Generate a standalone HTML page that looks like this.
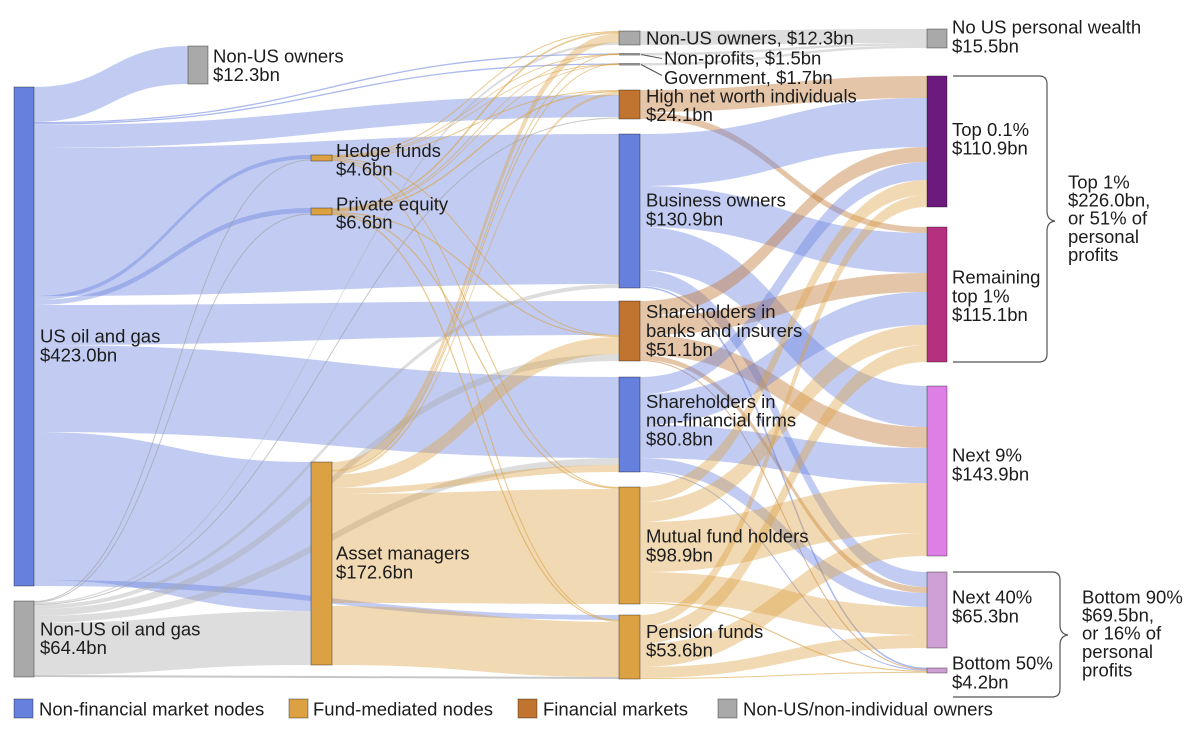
<!DOCTYPE html>
<html><head><meta charset="utf-8"><style>
html,body{margin:0;padding:0;background:#fff;}
svg{display:block;}
text{font-family:"Liberation Sans",Arial,sans-serif;font-size:18.5px;fill:#1c1c1c;}
.b{fill:#6680de;fill-opacity:.4}
.y{fill:#dba142;fill-opacity:.4}
.r{fill:#c0742f;fill-opacity:.42}
.g{fill:#a9a9a9;fill-opacity:.4}
.bs{fill:none;stroke:#6680de;stroke-opacity:.55}
.ys{fill:none;stroke:#dba142;stroke-opacity:.6}
.gs{fill:none;stroke:#999;stroke-opacity:.55}
.rs{fill:none;stroke:#c0742f;stroke-opacity:.55}
.n{stroke:#000;stroke-opacity:.35;stroke-width:1}
</style></head><body>
<svg width="1200" height="742" viewBox="0 0 1200 742" xmlns="http://www.w3.org/2000/svg">
<!-- US oil and gas links -->
<path class="b" d="M34 87C111 87 111 46 188 46L188 84C111 84 111 122 34 122Z"/>
<path class="bs" stroke-width="1.3" d="M34 122.7C326.5 122.7 326.5 54 619 54"/>
<path class="bs" stroke-width="1.3" d="M34 124C326.5 124 326.5 64 619 64"/>
<path class="b" d="M34 125C326.5 125 326.5 95 619 95L619 117C326.5 117 326.5 148 34 148Z"/>
<path class="b" d="M34 148C326.5 148 326.5 134 619 134L619 284C326.5 284 326.5 296 34 296Z"/>
<path class="b" d="M34 296C172.5 296 172.5 155 311 155L311 159C172.5 159 172.5 300 34 300Z"/>
<path class="b" d="M34 300C172.5 300 172.5 208 311 208L311 213C172.5 213 172.5 305 34 305Z"/>
<path class="b" d="M34 305C326.5 305 326.5 301 619 301L619 335C326.5 335 326.5 345 34 345Z"/>
<path class="b" d="M34 345C326.5 345 326.5 377 619 377L619 458C326.5 458 326.5 432 34 432Z"/>
<path class="b" d="M34 432C172.5 432 172.5 462 311 462L311 611C172.5 611 172.5 580 34 580Z"/>
<path class="b" d="M34 580C326.5 580 326.5 615 619 615L619 620C326.5 620 326.5 586 34 586Z"/>
<!-- Non-US oil and gas links -->
<path class="gs" stroke-width="1" d="M34 601.5C172.5 601.5 172.5 160 311 160"/>
<path class="gs" stroke-width="1" d="M34 602.3C172.5 602.3 172.5 214 311 214"/>
<path class="g" d="M34 602.6C326.5 602.6 326.5 42.5 619 42.5L619 45C326.5 45 326.5 604 34 604Z"/>
<path class="gs" stroke-width="1" d="M34 604.5C326.5 604.5 326.5 118 619 118"/>
<path class="g" d="M34 605C326.5 605 326.5 284 619 284L619 288C326.5 288 326.5 609 34 609Z"/>
<path class="g" d="M34 609C326.5 609 326.5 354 619 354L619 361C326.5 361 326.5 616 34 616Z"/>
<path class="g" d="M34 616C326.5 616 326.5 458 619 458L619 465C326.5 465 326.5 623 34 623Z"/>
<path class="g" d="M34 623C172.5 623 172.5 611 311 611L311 665C172.5 665 172.5 675 34 675Z"/>
<path class="gs" stroke-width="2" stroke-opacity=".3" d="M34 676C326.5 676 326.5 678 619 678"/>
<!-- Hedge funds -->
<path class="ys" stroke-width="1" d="M332 155.5C475.5 155.5 475.5 31.5 619 31.5"/>
<path class="ys" stroke-width=".8" d="M332 156.2C475.5 156.2 475.5 54.3 619 54.3"/>
<path class="ys" stroke-width=".8" d="M332 156.8C475.5 156.8 475.5 64.3 619 64.3"/>
<path class="ys" stroke-width="1" d="M332 157.5C475.5 157.5 475.5 90.5 619 90.5"/>
<path class="ys" stroke-width="1" d="M332 158.5C475.5 158.5 475.5 335.5 619 335.5"/>
<path class="ys" stroke-width="1" d="M332 159.5C475.5 159.5 475.5 487.5 619 487.5"/>
<path class="ys" stroke-width="1" d="M332 160.5C475.5 160.5 475.5 620.4 619 620.4"/>
<!-- Private equity -->
<path class="ys" stroke-width="1.5" d="M332 208.8C475.5 208.8 475.5 32.8 619 32.8"/>
<path class="ys" stroke-width=".8" d="M332 209.8C475.5 209.8 475.5 54.6 619 54.6"/>
<path class="ys" stroke-width=".8" d="M332 210.4C475.5 210.4 475.5 64.6 619 64.6"/>
<path class="ys" stroke-width="1.4" d="M332 211.3C475.5 211.3 475.5 91.6 619 91.6"/>
<path class="ys" stroke-width="1.2" d="M332 212.5C475.5 212.5 475.5 336.5 619 336.5"/>
<path class="ys" stroke-width="1.2" d="M332 213.6C475.5 213.6 475.5 488.3 619 488.3"/>
<path class="ys" stroke-width="1.2" d="M332 214.5C475.5 214.5 475.5 621.3 619 621.3"/>
<!-- Asset managers -->
<path class="y" d="M332 462C475.5 462 475.5 33.5 619 33.5L619 42.5C475.5 42.5 475.5 470 332 470Z"/>
<path class="ys" stroke-width=".9" d="M332 470.4C475.5 470.4 475.5 53.6 619 53.6"/>
<path class="ys" stroke-width=".9" d="M332 471.2C475.5 471.2 475.5 63.6 619 63.6"/>
<path class="y" d="M332 471.6C475.5 471.6 475.5 92.3 619 92.3L619 95.3C475.5 95.3 475.5 474.6 332 474.6Z"/>
<path class="y" d="M332 474.6C475.5 474.6 475.5 337 619 337L619 354C475.5 354 475.5 488 332 488Z"/>
<path class="y" d="M332 488C475.5 488 475.5 465 619 465L619 472C475.5 472 475.5 494 332 494Z"/>
<path class="y" d="M332 494C475.5 494 475.5 489 619 489L619 604C475.5 604 475.5 603 332 603Z"/>
<path class="y" d="M332 606C475.5 606 475.5 622 619 622L619 677C475.5 677 475.5 665 332 665Z"/>
<!-- Column 3 to column 4 -->
<path class="g" d="M640 31C783.5 31 783.5 29 927 29L927 43C783.5 43 783.5 45 640 45Z"/>
<path class="g" d="M640 53C783.5 53 783.5 43 927 43L927 45.5C783.5 45.5 783.5 55.5 640 55.5Z"/>
<path class="g" d="M640 63C783.5 63 783.5 45.5 927 45.5L927 48C783.5 48 783.5 65.5 640 65.5Z"/>
<path class="r" d="M640 90C783.5 90 783.5 76 927 76L927 98C783.5 98 783.5 112 640 112Z"/>
<path class="r" d="M640 112C783.5 112 783.5 227 927 227L927 233C783.5 233 783.5 119 640 119Z"/>
<path class="b" d="M640 134C783.5 134 783.5 98 927 98L927 147C783.5 147 783.5 186 640 186Z"/>
<path class="b" d="M640 186C783.5 186 783.5 233 927 233L927 273C783.5 273 783.5 227 640 227Z"/>
<path class="b" d="M640 227C783.5 227 783.5 386 927 386L927 427C783.5 427 783.5 270 640 270Z"/>
<path class="b" d="M640 270C783.5 270 783.5 572 927 572L927 587C783.5 587 783.5 286 640 286Z"/>
<path class="bs" stroke-width="1.5" d="M640 287C783.5 287 783.5 668.5 927 668.5"/>
<path class="r" d="M640 301C783.5 301 783.5 147 927 147L927 162C783.5 162 783.5 316 640 316Z"/>
<path class="r" d="M640 316C783.5 316 783.5 273 927 273L927 292C783.5 292 783.5 335 640 335Z"/>
<path class="r" d="M640 335C783.5 335 783.5 427 927 427L927 448C783.5 448 783.5 355 640 355Z"/>
<path class="r" d="M640 355C783.5 355 783.5 587 927 587L927 593C783.5 593 783.5 360 640 360Z"/>
<path class="rs" stroke-width="1" d="M640 360.5C783.5 360.5 783.5 669.3 927 669.3"/>
<path class="b" d="M640 377C783.5 377 783.5 162 927 162L927 180C783.5 180 783.5 394 640 394Z"/>
<path class="b" d="M640 394C783.5 394 783.5 292 927 292L927 325C783.5 325 783.5 425 640 425Z"/>
<path class="b" d="M640 425C783.5 425 783.5 448 927 448L927 483C783.5 483 783.5 458 640 458Z"/>
<path class="b" d="M640 458C783.5 458 783.5 593 927 593L927 607C783.5 607 783.5 471 640 471Z"/>
<path class="bs" stroke-width="1" d="M640 471.5C783.5 471.5 783.5 670.2 927 670.2"/>
<path class="y" d="M640 487C783.5 487 783.5 180 927 180L927 195C783.5 195 783.5 502 640 502Z"/>
<path class="y" d="M640 502C783.5 502 783.5 325 927 325L927 345C783.5 345 783.5 522 640 522Z"/>
<path class="y" d="M640 522C783.5 522 783.5 483 927 483L927 533C783.5 533 783.5 572 640 572Z"/>
<path class="y" d="M640 572C783.5 572 783.5 607 927 607L927 635C783.5 635 783.5 602 640 602Z"/>
<path class="ys" stroke-width="1.2" d="M640 603C783.5 603 783.5 671.3 927 671.3"/>
<path class="y" d="M640 615C783.5 615 783.5 195 927 195L927 207C783.5 207 783.5 627 640 627Z"/>
<path class="y" d="M640 627C783.5 627 783.5 345 927 345L927 362C783.5 362 783.5 644 640 644Z"/>
<path class="y" d="M640 644C783.5 644 783.5 533 927 533L927 556C783.5 556 783.5 667 640 667Z"/>
<path class="y" d="M640 667C783.5 667 783.5 635 927 635L927 648C783.5 648 783.5 678 640 678Z"/>
<path class="ys" stroke-width="1" d="M640 678.5C783.5 678.5 783.5 672.3 927 672.3"/>

<!-- Nodes -->
<rect class="n" x="14" y="87" width="20" height="499" fill="#6680de"/>
<rect class="n" x="14" y="601" width="20" height="76" fill="#a9a9a9"/>
<rect class="n" x="188" y="46" width="20" height="38" fill="#a9a9a9"/>
<rect class="n" x="311" y="155" width="21" height="6" fill="#dba142"/>
<rect class="n" x="311" y="208" width="21" height="7" fill="#dba142"/>
<rect class="n" x="311" y="462" width="21" height="203" fill="#dba142"/>
<rect class="n" x="619" y="31" width="21" height="14" fill="#a9a9a9"/>
<rect x="619" y="53" width="21" height="2.5" fill="#8c8c8c"/>
<rect x="619" y="63" width="21" height="2.5" fill="#8c8c8c"/>
<rect class="n" x="619" y="90" width="21" height="29" fill="#c0742f"/>
<rect class="n" x="619" y="134" width="21" height="154" fill="#6680de"/>
<rect class="n" x="619" y="301" width="21" height="60" fill="#c0742f"/>
<rect class="n" x="619" y="377" width="21" height="95" fill="#6680de"/>
<rect class="n" x="619" y="487" width="21" height="117" fill="#dba142"/>
<rect class="n" x="619" y="615" width="21" height="64" fill="#dba142"/>
<rect class="n" x="927" y="29" width="20" height="19" fill="#a9a9a9"/>
<rect class="n" x="927" y="76" width="20" height="131" fill="#6d1a7e"/>
<rect class="n" x="927" y="227" width="20" height="135" fill="#b5307f"/>
<rect class="n" x="927" y="386" width="20" height="170" fill="#de7fe5"/>
<rect class="n" x="927" y="572" width="20" height="76" fill="#cfa0d6"/>
<rect class="n" x="927" y="668" width="20" height="5" fill="#cfa0d6"/>

<!-- leader lines -->
<path d="M641 54.5L662 58.5M641 64.5L662 75.5" stroke="#555" stroke-width="1.1" fill="none"/>
<!-- brackets -->
<path d="M953 76L1039 76Q1047 76 1047 84L1047 211Q1047 220 1055 221Q1047 222 1047 231L1047 354Q1047 362 1039 362L953 362" stroke="#555" stroke-width="1.2" fill="none"/>
<path d="M953 572L1052 572Q1060 572 1060 580L1060 625Q1060 634 1068 635Q1060 636 1060 645L1060 689Q1060 697 1052 697L953 697" stroke="#555" stroke-width="1.2" fill="none"/>

<!-- Labels -->
<text x="213" y="62.5">Non-US owners</text>
<text x="213" y="81">$12.3bn</text>
<text x="336" y="157">Hedge funds</text>
<text x="336" y="175.5">$4.6bn</text>
<text x="336" y="210.5">Private equity</text>
<text x="336" y="228.5">$6.6bn</text>
<text x="40" y="342.5">US oil and gas</text>
<text x="40" y="361.5">$423.0bn</text>
<text x="40" y="635.5">Non-US oil and gas</text>
<text x="40" y="654">$64.4bn</text>
<text x="336" y="559.5">Asset managers</text>
<text x="336" y="578.5">$172.6bn</text>
<text x="646" y="44.5">Non-US owners, $12.3bn</text>
<text x="664" y="64.5">Non-profits, $1.5bn</text>
<text x="664" y="84">Government, $1.7bn</text>
<text x="646" y="102.5">High net worth individuals</text>
<text x="646" y="121">$24.1bn</text>
<text x="646" y="206.5">Business owners</text>
<text x="646" y="225.5">$130.9bn</text>
<text x="646" y="318">Shareholders in</text>
<text x="646" y="337">banks and insurers</text>
<text x="646" y="356">$51.1bn</text>
<text x="646" y="408">Shareholders in</text>
<text x="646" y="426.5">non-financial firms</text>
<text x="646" y="445.5">$80.8bn</text>
<text x="646" y="542.5">Mutual fund holders</text>
<text x="646" y="561.5">$98.9bn</text>
<text x="646" y="638">Pension funds</text>
<text x="646" y="656.5">$53.6bn</text>
<text x="952" y="33.5">No US personal wealth</text>
<text x="952" y="52.5">$15.5bn</text>
<text x="952" y="136">Top 0.1%</text>
<text x="952" y="154.5">$110.9bn</text>
<text x="952" y="283.5">Remaining</text>
<text x="952" y="302.5">top 1%</text>
<text x="952" y="321">$115.1bn</text>
<text x="952" y="461.5">Next 9%</text>
<text x="952" y="480.5">$143.9bn</text>
<text x="952" y="603.5">Next 40%</text>
<text x="952" y="622.5">$65.3bn</text>
<text x="952" y="669.5">Bottom 50%</text>
<text x="952" y="688.5">$4.2bn</text>
<text x="1068" y="188.5">Top 1%</text>
<text x="1068" y="206.5">$226.0bn,</text>
<text x="1068" y="224.5">or 51% of</text>
<text x="1068" y="243">personal</text>
<text x="1068" y="261">profits</text>
<text x="1082" y="603.5">Bottom 90%</text>
<text x="1082" y="621.5">$69.5bn,</text>
<text x="1082" y="639.5">or 16% of</text>
<text x="1082" y="658">personal</text>
<text x="1082" y="676.5">profits</text>

<!-- Legend -->
<rect class="n" x="14" y="699" width="19" height="19" fill="#6680de"/>
<text x="39" y="715.5">Non-financial market nodes</text>
<rect class="n" x="289" y="699" width="19" height="19" fill="#dba142"/>
<text x="313" y="715.5">Fund-mediated nodes</text>
<rect class="n" x="518" y="699" width="19" height="19" fill="#c0742f"/>
<text x="543" y="715.5">Financial markets</text>
<rect class="n" x="718" y="699" width="19" height="19" fill="#a9a9a9"/>
<text x="743" y="715.5">Non-US/non-individual owners</text>
</svg>
</body></html>
